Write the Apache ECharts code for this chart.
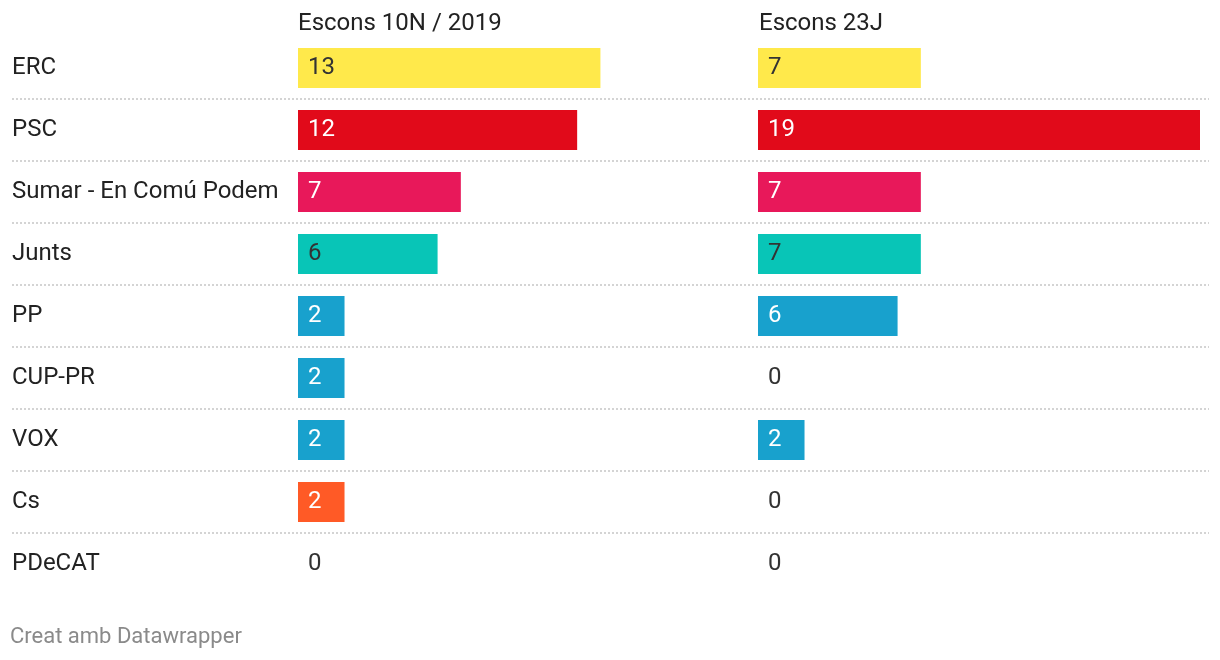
<!DOCTYPE html>
<html>
<head>
<meta charset="utf-8">
<script src="https://cdn.jsdelivr.net/npm/echarts@6/dist/echarts.min.js"></script>
<style>
html,body{margin:0;padding:0;background:#fff;}
#chart{width:1220px;height:660px;}
</style>
</head>
<body>
<div id="chart"></div>
<script>
const parties = ['ERC','PSC','Sumar - En Comú Podem','Junts','PP','CUP-PR','VOX','Cs','PDeCAT'];
const seats2019 = [13,12,7,6,2,2,2,2,0];
const seats23J = [7,19,7,7,6,0,2,0,0];
const columnTitles = ['Escons 10N / 2019','Escons 23J'];
const footerText = 'Creat amb Datawrapper';

const partyColors = ['#ffe94b','#e10a1a','#e8185a','#08c5b7','#18a1cd','#18a1cd','#18a1cd','#ff5a26','#999999'];
const darkLabelParties = ['ERC','Junts'];

const FONT = 'Roboto, "Noto Sans", sans-serif';
const chart = echarts.init(document.getElementById('chart'), null, {renderer:'canvas'});

function makeData(vals){
  return vals.map((v,i)=>({
    value:v,
    itemStyle:{color:partyColors[i]},
    label:{color:(v===0 || darkLabelParties.includes(parties[i])) ? '#333333' : '#ffffff'}
  }));
}

const gridTop = 37, rowH = 62, gridH = rowH*parties.length;
const colW = 442;
const lefts = [298, 758];

const option = {
  animation:false,
  textStyle:{fontFamily:FONT},
  title:[
    {text:columnTitles[0], left:298, top:12, padding:0, textStyle:{fontFamily:FONT,fontSize:24,fontWeight:'normal',color:'#222'}},
    {text:columnTitles[1], left:759, top:12, padding:0, textStyle:{fontFamily:FONT,fontSize:24,fontWeight:'normal',color:'#222'}},
    {text:footerText, left:10, top:626, padding:0, textStyle:{fontFamily:FONT,fontSize:22,fontWeight:'normal',color:'#8a8a8a'}}
  ],
  grid:[
    {left:lefts[0], top:gridTop, width:colW, height:gridH},
    {left:lefts[1], top:gridTop, width:colW, height:gridH},
    {left:12, top:gridTop+rowH, width:1197, height:rowH*(parties.length-2)}
  ],
  xAxis:[
    {gridIndex:0, type:'value', min:0, max:19, show:false},
    {gridIndex:1, type:'value', min:0, max:19, show:false},
    {gridIndex:2, type:'value', min:0, max:1, show:false}
  ],
  yAxis:[
    {gridIndex:0, type:'category', data:parties, inverse:true,
      axisLine:{show:false}, axisTick:{show:false}, splitLine:{show:false},
      axisLabel:{align:'left', margin:286, fontFamily:FONT, fontSize:24, color:'#222'}},
    {gridIndex:1, type:'category', data:parties, inverse:true, show:false},
    {gridIndex:2, type:'value', min:0, max:parties.length-2, interval:1, inverse:true,
      axisLine:{show:false}, axisTick:{show:false}, axisLabel:{show:false},
      splitLine:{show:true, lineStyle:{color:'#d4d4d4', width:2, type:[2,2]}}}
  ],
  series:[
    {type:'bar', xAxisIndex:0, yAxisIndex:0, barWidth:40, data:makeData(seats2019),
      label:{show:true, position:'insideLeft', distance:10, fontFamily:FONT, fontSize:24}},
    {type:'bar', xAxisIndex:1, yAxisIndex:1, barWidth:40, data:makeData(seats23J),
      label:{show:true, position:'insideLeft', distance:10, fontFamily:FONT, fontSize:24}}
  ]
};
chart.setOption(option);
</script>
</body>
</html>
